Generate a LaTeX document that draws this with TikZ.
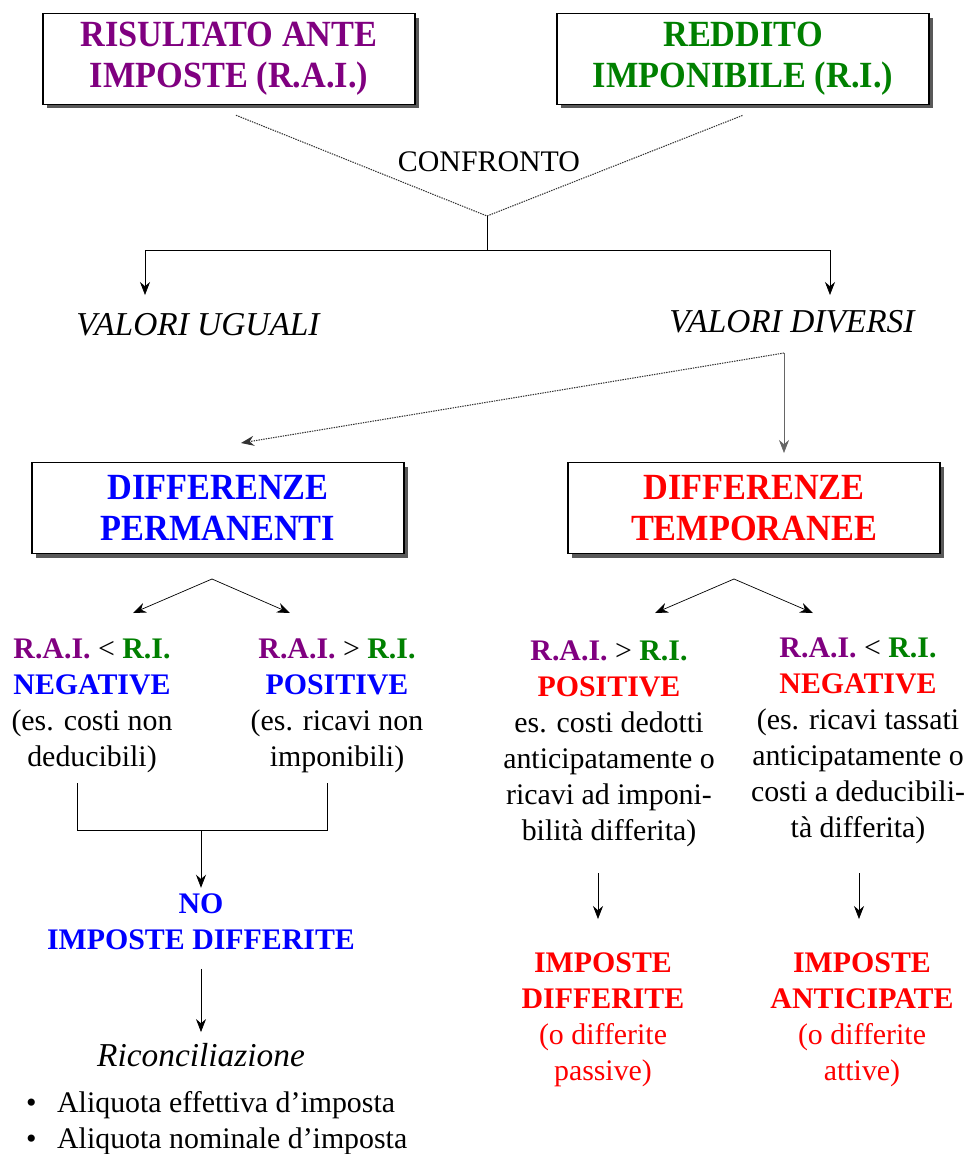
\documentclass[tikz,border=0pt]{standalone}
\usepackage{fontspec}
\setmainfont{Liberation Serif}
\newfontfamily\titlefont[FakeStretch=0.93]{Liberation Serif}
\usetikzlibrary{arrows.meta,shadows}
\definecolor{raicol}{RGB}{128,0,128}
\definecolor{ricol}{RGB}{0,128,0}
\definecolor{permcol}{RGB}{0,0,255}
\definecolor{tempcol}{RGB}{255,0,0}
\begin{document}
\begin{tikzpicture}[x=0.02cm, y=-0.02cm,
  box/.style={draw, line width=0.85pt, fill=white, minimum width=7.45cm, minimum height=1.82cm, align=center,
    font=\titlefont\fontsize{21}{23.5}\selectfont\bfseries,
    drop shadow={shadow xshift=0.08cm, shadow yshift=-0.08cm, fill=black!65, opacity=1}},
  txt/.style={align=center, font=\fontsize{17}{20.5}\selectfont},
  dots/.style={line width=0.6pt, dash pattern=on 0.8pt off 0.6pt, black!80},
  arr/.style={-{Stealth[length=2.6mm,width=2mm]}, thin}]
  \useasboundingbox (0,0) rectangle (973,1154);
  \node[box, text=raicol] (rai) at (229,59) {RISULTATO ANTE\\IMPOSTE (R.A.I.)};
  \node[box, text=ricol] (ri) at (743,59) {REDDITO\\IMPONIBILE (R.I.)};
  \node[txt] (confr) at (489,162) {CONFRONTO};
  \coordinate (meet) at (487,216);
  \coordinate (split) at (487,250);
  \coordinate (uguin) at (145,295);
  \coordinate (divin) at (830,295);
  \draw[dots] ([xshift=0.14cm, yshift=-0.2cm]rai.south) -- (meet) -- ([yshift=-0.2cm]ri.south);
  \draw (meet) -- (split);
  \draw[arr] (split) -| (uguin);
  \draw[arr] (split) -| (divin);
  \node[txt, font=\fontsize{19}{22}\selectfont\itshape] (ugu) at (198,325) {VALORI UGUALI};
  \node[txt, font=\fontsize{19}{22}\selectfont\itshape] (div) at (792,322) {VALORI DIVERSI};
  \coordinate (divout) at (784,353);
  \coordinate (permin) at (241,443);
  \coordinate (tempin) at (784,453);
  \draw[arr, dots] (divout) -- (permin);
  \draw[arr, black!60] (divout) -- (tempin);
  \node[box, text=permcol] (perm) at (218,508) {DIFFERENZE\\PERMANENTI};
  \node[box, text=tempcol] (temp) at (754,508) {DIFFERENZE\\TEMPORANEE};
  \coordinate (pfork) at (212,579);
  \coordinate (pnegin) at (133,613);
  \coordinate (pposin) at (290,613);
  \draw[arr] (pfork) -- (pnegin);
  \draw[arr] (pfork) -- (pposin);
  \coordinate (tfork) at (734,579);
  \coordinate (tposin) at (655,613);
  \coordinate (tnegin) at (813,613);
  \draw[arr] (tfork) -- (tposin);
  \draw[arr] (tfork) -- (tnegin);
  \node[txt] (pneg) at (92,706) {\textbf{\textcolor{raicol}{R.A.I.}} < \textbf{\textcolor{ricol}{R.I.}}\\
    \textbf{\textcolor{permcol}{NEGATIVE}}\\(es. costi non\\deducibili)};
  \node[txt] (ppos) at (337,706) {\textbf{\textcolor{raicol}{R.A.I.}} > \textbf{\textcolor{ricol}{R.I.}}\\
    \textbf{\textcolor{permcol}{POSITIVE}}\\(es. ricavi non\\imponibili)};
  \node[txt] (tpos) at (609,744) {\textbf{\textcolor{raicol}{R.A.I.}} > \textbf{\textcolor{ricol}{R.I.}}\\
    \textbf{\textcolor{tempcol}{POSITIVE}}\\es. costi dedotti\\anticipatamente o\\ricavi ad imponi-\\bilità differita)};
  \node[txt] (tneg) at (858,741) {\textbf{\textcolor{raicol}{R.A.I.}} < \textbf{\textcolor{ricol}{R.I.}}\\
    \textbf{\textcolor{tempcol}{NEGATIVE}}\\(es. ricavi tassati\\anticipatamente o\\costi a deducibili-\\tà differita)};
  \coordinate (bl) at (77,783);
  \coordinate (br) at (327,783);
  \coordinate (bmid) at (201,830);
  \draw (bl) |- (bmid) -| (br);
  \node[txt, text=permcol, font=\fontsize{17}{20.5}\selectfont\bfseries] (noimp) at (201,922) {NO\\IMPOSTE DIFFERITE};
  \draw[arr] (bmid) -- (noimp.north);
  \node[txt, font=\fontsize{19}{22}\selectfont\itshape] (ricon) at (201,1055) {Riconciliazione};
  \draw[arr, shorten <=0.25cm, shorten >=0.1cm] (noimp) -- (ricon);
  \node[txt, align=left, anchor=west] (bul) at (20,1123) {\makebox[0.62cm][l]{•}Aliquota effettiva d’imposta\\
    \makebox[0.62cm][l]{•}Aliquota nominale d’imposta};
  \node[txt, text=tempcol] (impdiff) at (603,1020) {\textbf{IMPOSTE}\\\textbf{DIFFERITE}\\(o differite\\passive)};
  \node[txt, text=tempcol] (impant) at (862,1020) {\textbf{IMPOSTE}\\\textbf{ANTICIPATE}\\(o differite\\attive)};
  \coordinate (tposout) at (598,873);
  \coordinate (tnegout) at (859,873);
  \draw[arr] (tposout) -- (598,919);
  \draw[arr] (tnegout) -- (859,919);
\end{tikzpicture}
\end{document}
